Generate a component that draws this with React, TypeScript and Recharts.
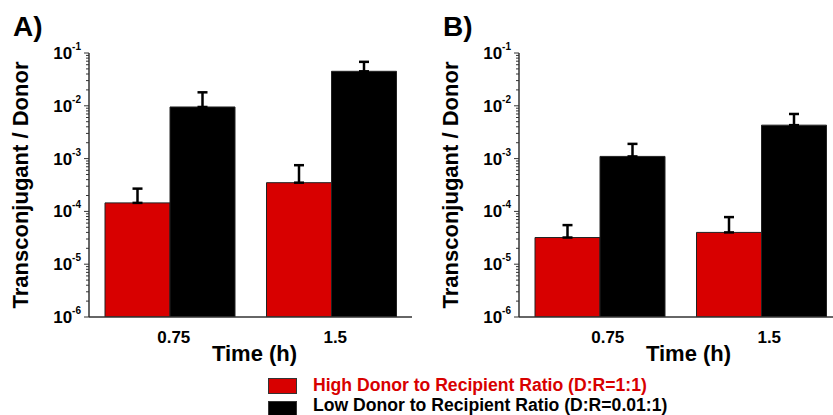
import React from 'react';
import { BarChart, Bar, XAxis, YAxis, ErrorBar } from 'recharts';

// time points (h)
const CATEGORIES = ['0.75', '1.5'];

// panel A — bar heights and top of error bars
const A_HIGH = [1.45e-4, 3.5e-4];
const A_HIGH_UP = [2.7e-4, 7.5e-4];
const A_LOW = [9.5e-3, 4.5e-2];
const A_LOW_UP = [1.8e-2, 6.8e-2];

// panel B
const B_HIGH = [3.2e-5, 4.0e-5];
const B_HIGH_UP = [5.5e-5, 7.8e-5];
const B_LOW = [1.1e-3, 4.3e-3];
const B_LOW_UP = [1.9e-3, 7.0e-3];

const MAJOR_TICKS = [1e-6, 1e-5, 1e-4, 1e-3, 1e-2, 1e-1];
const MINOR_MULT = [2, 3, 4, 5, 6, 7, 8, 9];

const RED = '#d80000';
const FONT = '"Liberation Sans", Arial, sans-serif';

const ALL_TICKS: number[] = [];
MAJOR_TICKS.forEach((t, i) => {
  ALL_TICKS.push(t);
  if (i < MAJOR_TICKS.length - 1) MINOR_MULT.forEach(m => ALL_TICKS.push(t * m));
});

const LogTick = (props: any) => {
  const { x, y, payload } = props;
  const lg = Math.log10(payload.value);
  const exp = Math.round(lg);
  const isMajor = Math.abs(lg - exp) < 1e-6;
  return (
    <g>
      <line x1={x - (isMajor ? 5 : 3)} x2={x} y1={y} y2={y} stroke="#333" strokeWidth={1} />
      {isMajor && (
        <text x={x - 8} y={y + 6} textAnchor="end" fontSize={17} fontWeight="bold" fill="#000" fontFamily={FONT}>
          10<tspan fontSize={10} dy={-9}>{`${exp}`}</tspan>
        </text>
      )}
    </g>
  );
};

const CatTick = (props: any) => {
  const { x, y, payload, shift } = props;
  return (
    <text x={x + shift} y={y + 26} textAnchor="middle" fontSize={17} fontWeight="bold" fill="#000" fontFamily={FONT}>
      {payload.value}
    </text>
  );
};

const XTitle = (props: any) => {
  const { viewBox, shift } = props;
  return (
    <text x={viewBox.x + viewBox.width / 2 + shift} y={361} textAnchor="middle" fontSize={22} fontWeight="bold" fill="#000" fontFamily={FONT}>
      Time (h)
    </text>
  );
};

const YTitle = (props: any) => {
  const { viewBox } = props;
  const cx = viewBox.x + 28;
  const cy = viewBox.y + viewBox.height / 2;
  return (
    <text x={cx} y={cy} transform={`rotate(-90, ${cx}, ${cy})`} textAnchor="middle" fontSize={22} fontWeight="bold" fill="#000" fontFamily={FONT}>
      Transconjugant / Donor
    </text>
  );
};

function Panel({ letter, left, high, highUp, low, lowUp, shift }: {
  letter: string; left: number; high: number[]; highUp: number[]; low: number[]; lowUp: number[]; shift: number;
}) {
  const data = CATEGORIES.map((c, i) => ({
    time: c,
    high: high[i],
    highErr: [0, highUp[i] - high[i]],
    low: low[i],
    lowErr: [0, lowUp[i] - low[i]],
  }));
  return (
    <div style={{ position: 'absolute', left, top: 0, width: 420, height: 370 }}>
      <div style={{ position: 'absolute', left: 13, top: 13, fontSize: 28, lineHeight: '28px', fontWeight: 'bold', fontFamily: FONT }}>
        {letter}
      </div>
      <BarChart width={420} height={370} data={data} margin={{ top: 53, right: 8, bottom: 23, left: 0 }}
        barCategoryGap={16} barGap={0}>
        <XAxis dataKey="time" height={30} tickLine={false} tickSize={0} tickMargin={0}
          axisLine={{ stroke: '#333', strokeWidth: 1.5 }}
          tick={(p: any) => <CatTick {...p} shift={shift} />} interval={0}
          label={<XTitle shift={shift} />} />
        <XAxis xAxisId="top" orientation="top" dataKey="time" height={0} tick={false} tickLine={false}
          axisLine={{ stroke: '#777', strokeWidth: 1.5 }} />
        <YAxis scale="log" type="number" domain={[1e-6, 1e-1]} allowDataOverflow ticks={ALL_TICKS} interval={0}
          width={89} tickLine={false} tickSize={0} tickMargin={0}
          axisLine={{ stroke: '#333', strokeWidth: 1.5 }} tick={LogTick} label={<YTitle />} />
        <YAxis yAxisId="right" orientation="right" type="number" domain={[0, 1]} width={0} tick={false} tickLine={false}
          axisLine={{ stroke: '#777', strokeWidth: 1.5 }} />
        <Bar dataKey="high" fill={RED} stroke="#222" strokeWidth={1} isAnimationActive={false}>
          <ErrorBar dataKey="highErr" width={5} strokeWidth={2.5} stroke="#000" isAnimationActive={false} />
        </Bar>
        <Bar dataKey="low" fill="#000" stroke="#222" strokeWidth={1} isAnimationActive={false}>
          <ErrorBar dataKey="lowErr" width={5} strokeWidth={2.5} stroke="#000" isAnimationActive={false} />
        </Bar>
      </BarChart>
    </div>
  );
}

const legendText: React.CSSProperties = {
  position: 'absolute', left: 313, height: 18, fontSize: 17.6, lineHeight: '18px',
  fontWeight: 'bold', whiteSpace: 'nowrap',
};

export default function App() {
  return (
    <div style={{ position: 'absolute', left: 0, top: 0, width: 833, height: 415, overflow: 'hidden', background: '#fff', fontFamily: FONT }}>
      <Panel letter="A)" left={0} high={A_HIGH} highUp={A_HIGH_UP} low={A_LOW} lowUp={A_LOW_UP} shift={4} />
      <Panel letter="B)" left={430} high={B_HIGH} highUp={B_HIGH_UP} low={B_LOW} lowUp={B_LOW_UP} shift={8} />
      <div style={{ position: 'absolute', left: 268, top: 378, width: 27, height: 14, background: RED, border: '1px solid #333' }} />
      <div style={{ ...legendText, top: 376, color: RED }}>
        High Donor to Recipient Ratio (D:R=1:1)
      </div>
      <div style={{ position: 'absolute', left: 268, top: 401, width: 27, height: 14, background: '#000', border: '1px solid #333' }} />
      <div style={{ ...legendText, top: 396, color: '#000' }}>
        Low Donor to Recipient Ratio (D:R=0.01:1)
      </div>
    </div>
  );
}
